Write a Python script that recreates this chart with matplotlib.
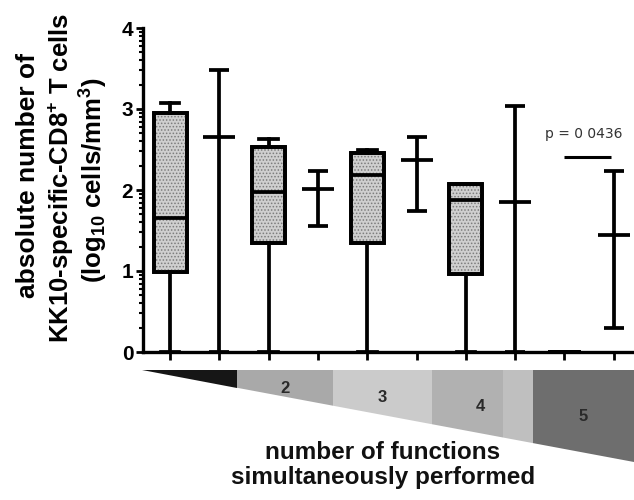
import matplotlib
matplotlib.use("Agg")
import matplotlib.pyplot as plt
import numpy as np
from matplotlib.patches import PathPatch, Polygon

plt.rcParams['font.family'] = ['Liberation Sans', 'DejaVu Sans']
plt.rcParams['mathtext.fontset'] = 'custom'
plt.rcParams['mathtext.bf'] = 'Liberation Sans:bold'
plt.rcParams['mathtext.rm'] = 'Liberation Sans:bold'
plt.rcParams['mathtext.default'] = 'bf'
plt.rcParams['hatch.linewidth'] = 0.7

# ---- data (log10 cells/mm3) ----
box_pos = [0, 2, 4, 6, 8]
box_whislo = [0.0, 0.0, 0.0, 0.0, 0.0]
box_q1 = [0.99, 1.34, 1.34, 0.96, 0.0]
box_med = [1.65, 1.97, 2.19, 1.88, 0.0]
box_q3 = [2.95, 2.53, 2.46, 2.07, 0.0]
box_whishi = [3.07, 2.63, 2.49, 2.07, 0.0]

range_pos = [1, 3, 5, 7, 9]
range_lo = [0.0, 1.56, 1.74, 0.0, 0.30]
range_med = [2.66, 2.01, 2.37, 1.85, 1.44]
range_hi = [3.48, 2.23, 2.66, 3.04, 2.23]

yticks = [0, 1, 2, 3, 4]
p_text = "p = 0 0436"
p_level = 2.41
p_span = [8.0, 8.95]

wedge_labels = ["", "2", "3", "4", "", "5"]
wedge_bounds = [0, 95, 191, 290, 361, 391, 492]
wedge_colors = ['#161616', '#a9a9a9', '#cbcbcb', '#b1b1b1', '#bfbfbf', '#6e6e6e']
xlabel_text = "number of functions\nsimultaneously performed"

# ---- figure ----
fig = plt.figure(figsize=(6.34, 5.0), dpi=100)
ax = fig.add_axes([143/634, 1-352/500, 1-143/634, (352-28)/500])

stats = []
for i in range(len(box_pos)):
    stats.append(dict(med=box_med[i], q1=box_q1[i], q3=box_q3[i],
                      whislo=box_whislo[i], whishi=box_whishi[i], fliers=[]))
lw = 2.7
bp = ax.bxp(stats, positions=box_pos, widths=0.67, patch_artist=True,
            showfliers=False,
            boxprops=dict(facecolor='#cfcfcf', edgecolor='black', linewidth=lw),
            medianprops=dict(color='black', linewidth=lw),
            whiskerprops=dict(color='black', linewidth=lw),
            capprops=dict(color='black', linewidth=lw),
            capwidths=0.38, manage_ticks=False)
for b in bp['boxes']:
    b.set_zorder(2)
    hp = PathPatch(b.get_path(), facecolor='none', edgecolor='#7c7c7c',
                   hatch='.....', lw=0, zorder=2.1)
    ax.add_patch(hp)
    ep = PathPatch(b.get_path(), facecolor='none', edgecolor='black',
                   lw=lw, zorder=2.2)
    ax.add_patch(ep)
for k in ('medians', 'whiskers', 'caps'):
    for l in bp[k]:
        l.set_zorder(3)

rm = np.array(range_med)
yerr = [rm - np.array(range_lo), np.array(range_hi) - rm]
ax.errorbar(range_pos, range_med, yerr=yerr, fmt='_', color='black',
            markersize=23, mew=lw, capsize=7.2, capthick=lw, elinewidth=lw,
            zorder=3)

# p-value annotation
ax.hlines(p_level, p_span[0], p_span[1], color='black', lw=2.2)
ax.text(8.4, 2.69, p_text, ha='center', va='center', fontsize=10,
        color='#333333', family='DejaVu Sans')

ax.set_xlim(-0.55, 9.41)
ax.set_ylim(0, 4)
ax.set_xticks(range(10))
ax.set_xticklabels([])
ax.set_yticks(yticks)
ax.set_yticklabels([str(t) for t in yticks], fontsize=15, fontweight='bold')
minor = [d + np.log10(m) for d in range(4) for m in range(2, 10)]
ax.set_yticks(minor, minor=True)
ax.tick_params(axis='y', which='major', length=5, width=2, pad=2)
ax.tick_params(axis='y', which='minor', length=3, width=1.5)
ax.tick_params(axis='x', which='major', length=6, width=2, direction='out')
for s in ('top', 'right'):
    ax.spines[s].set_visible(False)
for s in ('left', 'bottom'):
    ax.spines[s].set_linewidth(2.4)
ax.patch.set_alpha(0)

# y label (three lines)
fig.text(28/634, 1-176/500, "absolute number of", rotation=90,
         ha='center', va='center', fontsize=19, fontweight='bold')
fig.text(61/634, 1-178/500, r"KK10-specific-CD8$^{+}$ T cells", rotation=90,
         ha='center', va='center', fontsize=18.5, fontweight='bold')
fig.text(94/634, 1-180/500, r"(log$_{10}$ cells/mm$^{3}$)", rotation=90,
         ha='center', va='center', fontsize=18.5, fontweight='bold')

# wedge graphic
wax = fig.add_axes([142/634, 1-462/500, 492/634, 92/500])
W, H = wedge_bounds[-1], 92.0
wax.set_xlim(0, W)
wax.set_ylim(H, 0)
wax.axis('off')
for i in range(len(wedge_colors)):
    x0, x1 = wedge_bounds[i], wedge_bounds[i+1]
    poly = Polygon([[x0, 0], [x1, 0], [x1, x1*H/W], [x0, x0*H/W]],
                   closed=True, facecolor=wedge_colors[i], edgecolor='none')
    wax.add_patch(poly)
    if wedge_labels[i]:
        cx = (x0 + x1) / 2 if i != 3 else (x0 + wedge_bounds[i+2]) / 2 - 2
        cy = cx * H / W / 2 + 5
        wax.text(cx, cy, wedge_labels[i], ha='center', va='center',
                 fontsize=12, fontweight='bold', color='#2a2a2a')

fig.text(383/634, 1-465/500, xlabel_text, ha='center', va='center',
         fontsize=17.5, fontweight='bold', linespacing=1.1, color='#111111')

fig.savefig("out.png", dpi=100)
